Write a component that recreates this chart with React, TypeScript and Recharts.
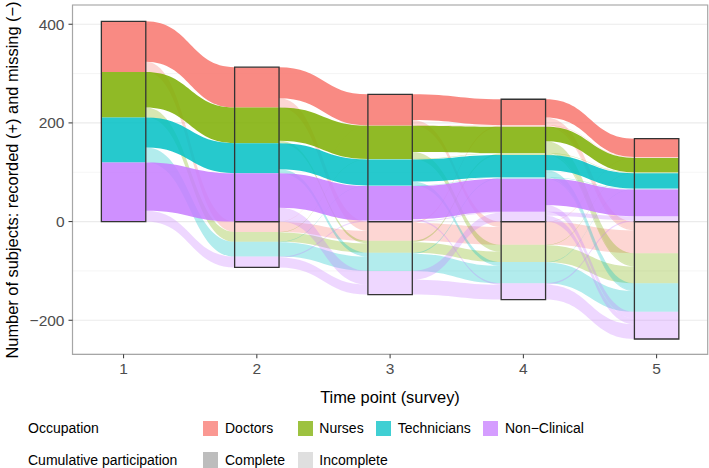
import React from 'react';
import { ComposedChart, Area, XAxis, YAxis, CartesianGrid, ReferenceArea } from 'recharts';

// ---------- data ----------
const TIME_POINTS = [1, 2, 3, 4, 5];
const OCCUPATIONS = ['Doctors', 'Nurses', 'Technicians', 'Non\u2212Clinical'];
const OCC_COLORS = ['#F8766D', '#7CAE00', '#00BFC4', '#C77CFF'];
const PARTICIPATION = ['Complete', 'Incomplete'];

// rows = time points 1..5, columns = occupations
const RECORDED_COMPLETE = [
  [103, 92, 91, 120],
  [82, 72, 61, 98],
  [63, 67, 53, 70],
  [52, 53, 45, 67],
  [37, 29, 31, 54],
];
const RECORDED_INCOMPLETE = [
  [0, 0, 0, 0],
  [0, 0, 0, 0],
  [1, 1, 1, 2],
  [4, 4, 3, 20],
  [2, 2, 2, 11],
];
const MISSING = [
  [0, 0, 0, 0],
  [21, 20, 30, 22],
  [39, 24, 37, 48],
  [47, 35, 43, 33],
  [64, 61, 58, 55],
];
// subjects missing at time k who returned at time k+1 (rows = transitions 1>2 .. 4>5)
const RETURNED = [
  [0, 0, 0, 0],
  [1, 1, 1, 2],
  [3, 3, 2, 18],
  [1, 1, 1, 3],
];

const Y_TICKS = [-200, 0, 200, 400];
const Y_MINOR = [-100, 100, 300];
const X_DOMAIN: [number, number] = [0.6167, 5.3833];
const Y_DOMAIN: [number, number] = [-269, 439];

// ---------- styling ----------
const FONT = '"Liberation Sans", Arial, Helvetica, sans-serif';
const HALF = 1 / 6;
const ALPHA_COMPLETE = 0.85;
const ALPHA_INCOMPLETE = 0.3;

type State = { occ: number; kind: 'C' | 'I' | 'M'; value: number; lo: number; hi: number };

function layoutStrata(t: number): State[] {
  const states: State[] = [];
  let recTotal = 0;
  for (let o = 0; o < 4; o++) recTotal += RECORDED_COMPLETE[t][o] + RECORDED_INCOMPLETE[t][o];
  let top = recTotal;
  for (let o = 0; o < 4; o++) {
    const vc = RECORDED_COMPLETE[t][o];
    states.push({ occ: o, kind: 'C', value: vc, hi: top, lo: top - vc });
    top -= vc;
    const vi = RECORDED_INCOMPLETE[t][o];
    states.push({ occ: o, kind: 'I', value: vi, hi: top, lo: top - vi });
    top -= vi;
  }
  let z = 0;
  for (let o = 0; o < 4; o++) {
    const vm = MISSING[t][o];
    states.push({ occ: o, kind: 'M', value: vm, hi: z, lo: z - vm });
    z -= vm;
  }
  return states;
}

const STRATA = TIME_POINTS.map((_, t) => layoutStrata(t));

type Flow = {
  occ: number;
  from: number;
  to: number;
  value: number;
  complete: boolean;
  a?: [number, number];
  b?: [number, number];
  k: number;
};

function buildFlows(k: number): Flow[] {
  const flows: Flow[] = [];
  for (let o = 0; o < 4; o++) {
    const cc = RECORDED_COMPLETE[k + 1][o];
    const cm = RECORDED_COMPLETE[k][o] - RECORDED_COMPLETE[k + 1][o];
    const r = RETURNED[k][o];
    const ii = RECORDED_INCOMPLETE[k + 1][o] - r;
    const im = RECORDED_INCOMPLETE[k][o] - ii;
    const mm = MISSING[k][o] - r;
    flows.push({ occ: o, from: o * 2, to: o * 2, value: cc, complete: true, k });
    flows.push({ occ: o, from: o * 2, to: 8 + o, value: cm, complete: false, k });
    flows.push({ occ: o, from: o * 2 + 1, to: o * 2 + 1, value: ii, complete: false, k });
    flows.push({ occ: o, from: o * 2 + 1, to: 8 + o, value: im, complete: false, k });
    flows.push({ occ: o, from: 8 + o, to: o * 2 + 1, value: r, complete: false, k });
    flows.push({ occ: o, from: 8 + o, to: 8 + o, value: mm, complete: false, k });
  }
  const list = flows.filter((f) => f.value > 0);
  const src = STRATA[k];
  const dst = STRATA[k + 1];
  for (let s = 0; s < 12; s++) {
    let top = src[s].hi;
    list
      .filter((f) => f.from === s)
      .sort((p, q) => p.to - q.to)
      .forEach((f) => {
        f.a = [top - f.value, top];
        top -= f.value;
      });
    let top2 = dst[s].hi;
    list
      .filter((f) => f.to === s)
      .sort((p, q) => p.from - q.from)
      .forEach((f) => {
        f.b = [top2 - f.value, top2];
        top2 -= f.value;
      });
  }
  return list;
}

const FLOWS: Flow[] = [];
for (let k = 0; k < TIME_POINTS.length - 1; k++) FLOWS.push(...buildFlows(k));

const fmt = (v: number) => (v < 0 ? '\u2212' + Math.abs(v) : String(v));

const keyColor = (hex: string, a: number) => {
  const n = parseInt(hex.slice(1), 16);
  const r = (n >> 16) & 255, g = (n >> 8) & 255, b = n & 255;
  const mix = (c: number) => Math.round(255 - a * (255 - c));
  return `rgb(${mix(r)},${mix(g)},${mix(b)})`;
};

export default function App() {
  const flowArea = (f: Flow, i: number) => (
    <Area
      key={`flow-${f.k}-${i}-${f.occ}-${f.from}-${f.to}`}
      data={[
        { x: TIME_POINTS[f.k] + HALF, range: f.a },
        { x: TIME_POINTS[f.k + 1] - HALF, range: f.b },
      ]}
      dataKey="range"
      type="bumpX"
      stroke="none"
      fill={OCC_COLORS[f.occ]}
      fillOpacity={f.complete ? ALPHA_COMPLETE : ALPHA_INCOMPLETE}
      dot={false}
      activeDot={false}
      isAnimationActive={false}
      legendType="none"
    />
  );

  const strataAreas: React.ReactNode[] = [];
  const strataDark: React.ReactNode[] = [];
  STRATA.forEach((states, t) => {
    states.forEach((s, j) => {
      if (s.value <= 0) return;
      const el = (
        <Area
          key={`stratum-${t}-${j}`}
          data={[
            { x: TIME_POINTS[t] - HALF, range: [s.lo, s.hi] },
            { x: TIME_POINTS[t] + HALF, range: [s.lo, s.hi] },
          ]}
          dataKey="range"
          type="linear"
          stroke="none"
          fill={OCC_COLORS[s.occ]}
          fillOpacity={s.kind === 'C' ? ALPHA_COMPLETE : ALPHA_INCOMPLETE}
          dot={false}
          activeDot={false}
          isAnimationActive={false}
          legendType="none"
        />
      );
      if (s.kind === 'C') strataDark.push(el);
      else strataAreas.push(el);
    });
  });

  const boxes: React.ReactNode[] = [];
  STRATA.forEach((states, t) => {
    const rec = states.filter((s) => s.kind !== 'M').reduce((a, s) => a + s.value, 0);
    const mis = states.filter((s) => s.kind === 'M').reduce((a, s) => a + s.value, 0);
    boxes.push(
      <ReferenceArea
        key={`box-r-${t}`}
        x1={TIME_POINTS[t] - HALF}
        x2={TIME_POINTS[t] + HALF}
        y1={0}
        y2={rec}
        fill="none"
        fillOpacity={0}
        stroke="#333333"
        strokeWidth={1.3}
        ifOverflow="visible"
      />
    );
    if (mis > 0)
      boxes.push(
        <ReferenceArea
          key={`box-m-${t}`}
          x1={TIME_POINTS[t] - HALF}
          x2={TIME_POINTS[t] + HALF}
          y1={-mis}
          y2={0}
          fill="none"
          fillOpacity={0}
          stroke="#333333"
          strokeWidth={1.3}
          ifOverflow="visible"
        />
      );
  });

  const lightFlows = FLOWS.map((f, i) => ({ f, i })).filter(({ f }) => !f.complete);
  const darkFlows = FLOWS.map((f, i) => ({ f, i })).filter(({ f }) => f.complete);

  const tickStyle = { fontFamily: FONT, fontSize: 15.5, fill: '#4D4D4D' };

  const legendText: React.CSSProperties = {
    position: 'absolute',
    fontFamily: FONT,
    fontSize: 14,
    color: '#000',
    lineHeight: '16px',
    whiteSpace: 'nowrap',
  };
  const occKeyX = [202.7, 297.5, 375.7, 482.7];
  const occTextX = [225, 319.3, 397.7, 505];
  const partKeyX = [202.7, 297.5];
  const partTextX = [225, 319.3];
  const partColors = ['#BDBDBD', '#DFDFDF'];

  return (
    <div style={{ position: 'absolute', left: 0, top: 0, width: 709, height: 468, background: '#fff', overflow: 'hidden' }}>
      <ComposedChart width={709} height={410} margin={{ top: 5, right: 1.3, left: 0, bottom: 0 }}>
        <XAxis
          type="number"
          dataKey="x"
          domain={X_DOMAIN}
          allowDataOverflow
          ticks={TIME_POINTS}
          tick={tickStyle}
          tickLine={{ stroke: '#333333' }}
          tickSize={4}
          tickMargin={5}
          axisLine={false}
          height={55.7}
          interval={0}
        />
        <YAxis
          type="number"
          domain={Y_DOMAIN}
          allowDataOverflow
          ticks={Y_TICKS}
          tick={tickStyle}
          tickFormatter={fmt}
          tickLine={{ stroke: '#333333' }}
          tickSize={4}
          tickMargin={4}
          axisLine={false}
          width={72.5}
          interval={0}
        />
        <YAxis
          yAxisId="minor"
          type="number"
          domain={Y_DOMAIN}
          allowDataOverflow
          ticks={Y_MINOR}
          interval={0}
          hide
        />
        <CartesianGrid yAxisId="minor" vertical={false} stroke="#F3F3F3" strokeWidth={0.8} />
        <CartesianGrid vertical={false} stroke="#EBEBEB" strokeWidth={1.1} />
        {lightFlows.map(({ f, i }) => flowArea(f, i))}
        {strataAreas}
        {darkFlows.map(({ f, i }) => flowArea(f, i))}
        {strataDark}
        {boxes}
        <ReferenceArea
          x1={X_DOMAIN[0]}
          x2={X_DOMAIN[1]}
          y1={Y_DOMAIN[0]}
          y2={Y_DOMAIN[1]}
          fill="none"
          fillOpacity={0}
          stroke="#A6A6A6"
          strokeWidth={1.2}
          ifOverflow="visible"
        />
      </ComposedChart>

      {/* axis titles */}
      <div
        style={{
          position: 'absolute',
          left: 11.5,
          top: 179.5,
          transform: 'translate(-50%, -50%) rotate(-90deg)',
          fontFamily: FONT,
          fontSize: 16.4,
          lineHeight: '18px',
          whiteSpace: 'nowrap',
          color: '#000',
        }}
      >
        Number of subjects: recorded (+) and missing (&minus;)
      </div>
      <div
        style={{
          position: 'absolute',
          left: 390,
          top: 397,
          transform: 'translate(-50%, -50%)',
          fontFamily: FONT,
          fontSize: 16.4,
          lineHeight: '18px',
          whiteSpace: 'nowrap',
          color: '#000',
        }}
      >
        Time point (survey)
      </div>

      {/* legends */}
      <div style={{ ...legendText, left: 28, top: 420 }}>Occupation</div>
      {OCCUPATIONS.map((name, i) => (
        <React.Fragment key={name}>
          <div
            style={{
              position: 'absolute',
              left: occKeyX[i],
              top: 420.5,
              width: 15.5,
              height: 15.5,
              background: keyColor(OCC_COLORS[i], 0.75),
            }}
          />
          <div style={{ ...legendText, left: occTextX[i], top: 419.5 }}>{name}</div>
        </React.Fragment>
      ))}
      <div style={{ ...legendText, left: 28, top: 451.5 }}>Cumulative participation</div>
      {PARTICIPATION.map((name, i) => (
        <React.Fragment key={name}>
          <div
            style={{
              position: 'absolute',
              left: partKeyX[i],
              top: 452,
              width: 15.5,
              height: 15.5,
              background: partColors[i],
            }}
          />
          <div style={{ ...legendText, left: partTextX[i], top: 451.5 }}>{name}</div>
        </React.Fragment>
      ))}
    </div>
  );
}
